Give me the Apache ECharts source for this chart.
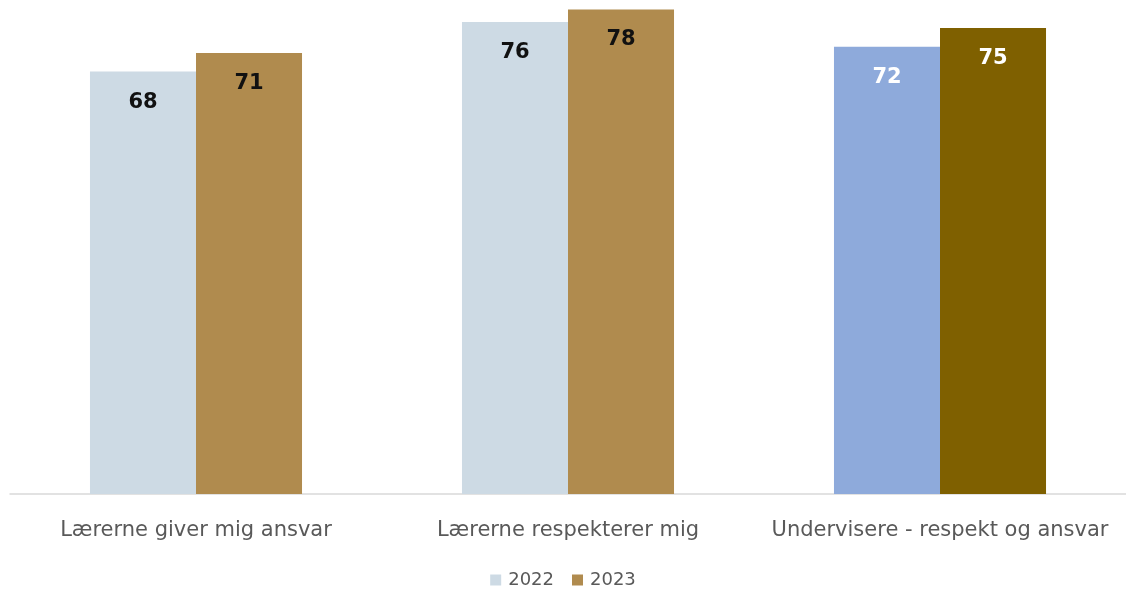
<!DOCTYPE html>
<html>
<head>
<meta charset="utf-8">
<script src="https://cdn.jsdelivr.net/npm/echarts@6/dist/echarts.min.js"></script>
<style>
  html, body { margin: 0; padding: 0; background: #fff; }
  #main { width: 1126px; height: 594px; }
</style>
</head>
<body>
<div id="main"></div>
<script>
// data
const categories = ['Lærerne giver mig ansvar', 'Lærerne respekterer mig', 'Undervisere - respekt og ansvar'];
const seriesNames = ['2022', '2023'];
const values2022 = [68, 76, 72];
const values2023 = [71, 78, 75];

// colours: last category is highlighted
const color2022 = '#cddae4';
const color2023 = '#b08b4e';
const highlight2022 = '#8eaadb';
const highlight2023 = '#7f6000';

const chart = echarts.init(document.getElementById('main'));

const buildData = (vals, base, hl) => vals.map((v, i) => {
    const last = i === vals.length - 1;
    return {
        value: v,
        itemStyle: { color: last ? hl : base },
        label: { color: last ? '#ffffff' : '#111111' }
    };
});

const labelStyle = {
    show: true,
    position: 'insideTop',
    distance: 20,
    fontSize: 21,
    fontWeight: 'bold',
    fontFamily: 'DejaVu Sans'
};

const option = {
    animation: false,
    textStyle: { fontFamily: 'DejaVu Sans' },
    grid: { left: 10, right: 0, top: 2, bottom: 100 },
    legend: {
        data: seriesNames,
        bottom: 0,
        left: 'center',
        icon: 'rect',
        itemWidth: 11,
        itemHeight: 11,
        itemGap: 18,
        textStyle: { fontSize: 18, color: '#595959', padding: [0, 0, 0, 2] }
    },
    xAxis: {
        type: 'category',
        data: categories,
        axisLine: { lineStyle: { color: '#d9d9d9', width: 1.5 } },
        axisTick: { show: false },
        axisLabel: { interval: 0, fontSize: 21, color: '#595959', margin: 26 }
    },
    yAxis: {
        type: 'value',
        min: 0,
        max: 79.2,
        show: false,
        splitLine: { show: false }
    },
    series: [
        {
            name: seriesNames[0],
            type: 'bar',
            barGap: '0%',
            barCategoryGap: '43%',
            itemStyle: { color: color2022 },
            label: labelStyle,
            data: buildData(values2022, color2022, highlight2022)
        },
        {
            name: seriesNames[1],
            type: 'bar',
            itemStyle: { color: color2023 },
            label: labelStyle,
            data: buildData(values2023, color2023, highlight2023)
        }
    ]
};

chart.setOption(option);
</script>
</body>
</html>
